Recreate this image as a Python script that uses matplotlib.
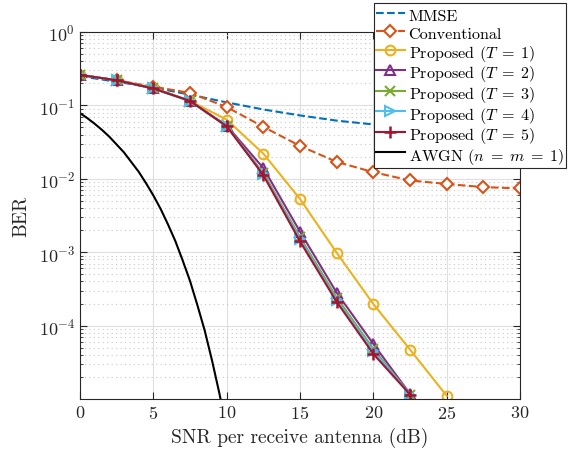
import numpy as np
import matplotlib
matplotlib.use('Agg')
import matplotlib.pyplot as plt
from matplotlib.ticker import LogLocator, NullFormatter

plt.rcParams['font.family'] = 'serif'
plt.rcParams['font.serif'] = ['cmr10']
plt.rcParams['mathtext.fontset'] = 'cm'
plt.rcParams['axes.formatter.use_mathtext'] = True

# dados
snr = [0, 2.5, 5, 7.5, 10, 12.5, 15, 17.5, 20, 22.5, 25, 27.5, 30]
ber_mmse = [0.25, 0.21, 0.175, 0.14, 0.11, 0.088, 0.073, 0.062, 0.055, 0.05, 0.046, 0.043, 0.04]
ber_conv = [0.26, 0.22, 0.18, 0.148, 0.095, 0.051, 0.028, 0.017, 0.0123, 0.0095, 0.0085, 0.0077, 0.0074]

snr_prop1 = [0, 2.5, 5, 7.5, 10, 12.5, 15, 17.5, 20, 22.5, 25]
ber_t1 = [0.26, 0.22, 0.175, 0.115, 0.064, 0.022, 0.0053, 0.00098, 1.96e-4, 4.7e-5, 1.1e-5]

snr_prop = [0, 2.5, 5, 7.5, 10, 12.5, 15, 17.5, 20, 22.5]
ber_t2 = [0.26, 0.22, 0.17, 0.115, 0.053, 0.014, 0.0019, 2.8e-4, 5.6e-5, 1.17e-5]
ber_t3 = [0.26, 0.22, 0.17, 0.115, 0.052, 0.012, 0.0016, 2.4e-4, 4.8e-5, 1.15e-5]
ber_t4 = [0.26, 0.22, 0.17, 0.115, 0.052, 0.0115, 0.0015, 2.2e-4, 4.5e-5, 1.15e-5]
ber_t5 = [0.26, 0.22, 0.17, 0.115, 0.052, 0.0112, 0.0014, 2.1e-4, 4.1e-5, 1.15e-5]

snr_awgn = [0, 0.5, 1, 1.5, 2, 2.5, 3, 3.5, 4, 4.5, 5, 5.5, 6, 6.5, 7, 7.5, 8, 8.5, 9, 9.5, 10]
ber_awgn = [0.0786, 0.0671, 0.0563, 0.0464, 0.0375, 0.0293, 0.0229, 0.0169, 0.0125, 0.00873,
            0.00595, 0.00388, 0.00239, 0.00142, 7.73e-4, 4.07e-4, 1.91e-4, 8.6e-5, 3.36e-5,
            1.2e-5, 3.9e-6]

fig = plt.figure(figsize=(5.71, 4.52), dpi=100)
ax = fig.add_axes([0.140, 0.115, 0.771, 0.812])

lw = 1.5
ms = 7
ax.semilogy(snr, ber_mmse, '--', color='#0072BD', lw=lw, label='MMSE')
ax.semilogy(snr, ber_conv, '--', color='#D95319', lw=lw, marker='D', ms=6,
            mfc='white', mew=1.5, label='Conventional')
ax.semilogy(snr_prop1, ber_t1, '-', color='#EDB120', lw=lw, marker='o', ms=ms,
            mfc='none', mew=1.5, label=r'Proposed ($T\;=\;1$)')
ax.semilogy(snr_prop, ber_t2, '-', color='#7E2F8E', lw=lw, marker='^', ms=ms,
            mfc='none', mew=1.5, label=r'Proposed ($T\;=\;2$)')
ax.semilogy(snr_prop, ber_t3, '-', color='#77AC30', lw=lw, marker='x', ms=ms,
            mew=1.5, label=r'Proposed ($T\;=\;3$)')
ax.semilogy(snr_prop, ber_t4, '-', color='#4DBEEE', lw=lw, marker='>', ms=ms,
            mfc='none', mew=1.5, label=r'Proposed ($T\;=\;4$)')
ax.semilogy(snr_prop, ber_t5, '-', color='#A2142F', lw=lw, marker='+', ms=9,
            mew=1.8, label=r'Proposed ($T\;=\;5$)')
ax.semilogy(snr_awgn, ber_awgn, '-', color='black', lw=lw, label=r'AWGN ($n\;=\;m\;=\;1$)')

ax.set_xlim(0, 30)
ax.set_ylim(1e-5, 1)
ax.set_xticks([0, 5, 10, 15, 20, 25, 30])
ax.set_yticks([1e-4, 1e-3, 1e-2, 1e-1, 1])
ax.yaxis.set_minor_locator(LogLocator(base=10, subs=np.arange(2, 10), numticks=20))
ax.yaxis.set_minor_formatter(NullFormatter())

ax.grid(True, which='major', color='#dfdfdf', lw=0.8, ls='-')
ax.grid(True, which='minor', axis='y', color='#c8c8c8', lw=0.8, ls=(0, (1, 3)))
ax.set_axisbelow(True)

ax.tick_params(which='both', direction='in', top=True, right=True, labelsize=13, colors='#262626')
ax.tick_params(which='major', length=5)
ax.tick_params(which='minor', length=2.5)
for s in ax.spines.values():
    s.set_color('#262626')
    s.set_linewidth(0.8)

ax.set_xlabel('SNR per receive antenna (dB)', fontsize=14, color='#262626', labelpad=4)
ax.set_ylabel('BER', fontsize=14, color='#262626', labelpad=6)

leg = fig.legend(loc='upper right', bbox_to_anchor=(0.992, 0.991), fontsize=11.6,
                 frameon=True, fancybox=False, framealpha=1, edgecolor='#262626',
                 handlelength=1.75, handleheight=1.38, borderpad=0.15, labelspacing=0.0,
                 handletextpad=0.25, borderaxespad=0)
leg.get_frame().set_linewidth(0.8)

fig.savefig('out.png', dpi=100)
